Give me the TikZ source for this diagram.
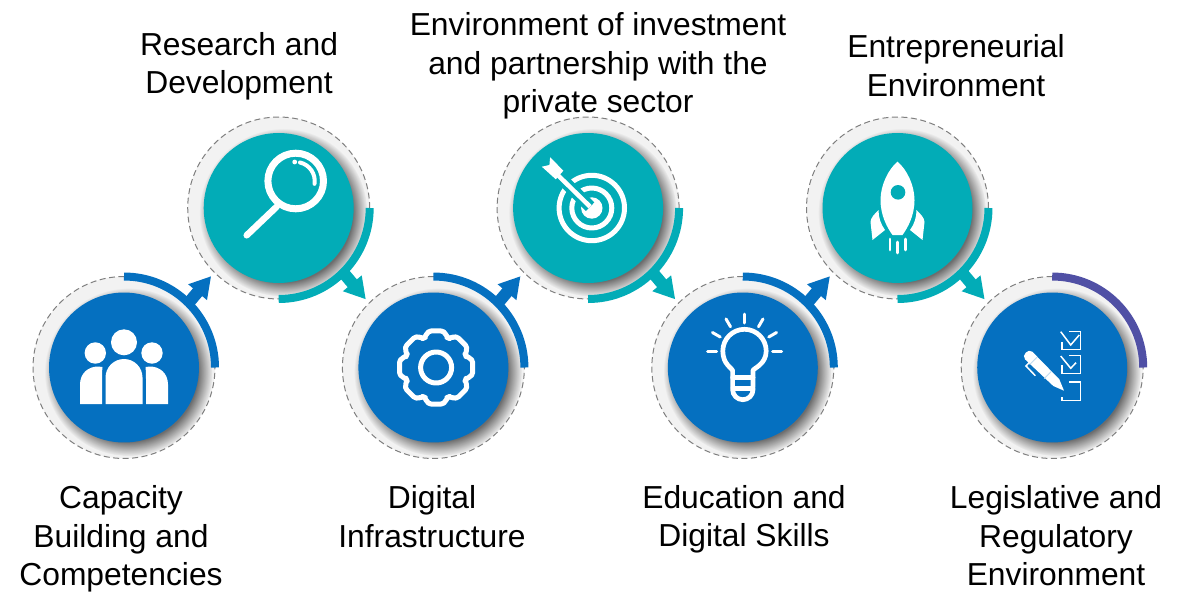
\documentclass[tikz,border=0pt]{standalone}
\usepackage{fontspec}
\setmainfont{Liberation Sans}
\definecolor{stepblue}{RGB}{5,112,192}
\definecolor{stepteal}{RGB}{2,172,183}
\definecolor{steppurple}{RGB}{80,80,165}
\definecolor{ringgray}{RGB}{242,242,242}
\definecolor{dashgray}{RGB}{127,127,127}
\usetikzlibrary{arrows.meta,fadings}
\pgfdeclareradialshading{softshadowshade}{\pgfpointorigin}{color(0bp)=(pgftransparent!45); color(20.5bp)=(pgftransparent!45); color(25bp)=(pgftransparent!100); color(50bp)=(pgftransparent!100)}
\pgfdeclarefading{softshadow}{\pgfuseshading{softshadowshade}}
\tikzset{
    ringnode/.style={draw=dashgray, dash pattern=on 0.12cm off 0.07cm, line width=0.02cm, fill=ringgray, circle, inner sep=0pt, outer sep=0pt, minimum size=3.64cm},
    shadownode/.style={circle, inner sep=0pt, minimum size=3.36cm, fill=black, path fading=softshadow, xshift=0.09cm, yshift=-0.09cm},
    discblue/.style={circle, inner sep=0pt, minimum size=3cm, fill=stepblue},
    discteal/.style={circle, inner sep=0pt, minimum size=3cm, fill=stepteal},
    arcline/.style={line width=0.16cm},
    flowline/.style={line width=0.24cm, -{Triangle[length=0.42cm,width=0.46cm]}, shorten >=0.1cm},
    steplabel/.style={align=center, inner sep=0pt, font=\fontsize{18.1}{21.85}\selectfont},
    icon/.style={draw=white, line width=0.1cm, line cap=round, line join=round},
    iconthin/.style={draw=white, line width=0.03cm},
}

\begin{document}
\begin{tikzpicture}[x=0.02cm, y=0.02cm]
    \useasboundingbox (0,0) rectangle (1189,593);

    % Rings
    \node[ringnode] (ringA) at (124,225.5) {};
    \node[ringnode] (ringB) at (278.7,385) {};
    \node[ringnode] (ringC) at (433.4,225.5) {};
    \node[ringnode] (ringD) at (588.1,385) {};
    \node[ringnode] (ringE) at (742.8,225.5) {};
    \node[ringnode] (ringF) at (897.5,385) {};
    \node[ringnode] (ringG) at (1052.2,225.5) {};

    % Shadows
    \node[shadownode] (shadowA) at (ringA.center) {};
    \node[shadownode] (shadowB) at (ringB.center) {};
    \node[shadownode] (shadowC) at (ringC.center) {};
    \node[shadownode] (shadowD) at (ringD.center) {};
    \node[shadownode] (shadowE) at (ringE.center) {};
    \node[shadownode] (shadowF) at (ringF.center) {};
    \node[shadownode] (shadowG) at (ringG.center) {};

    % Discs
    \node[discblue] (discA) at (ringA.center) {};
    \node[discteal] (discB) at (ringB.center) {};
    \node[discblue] (discC) at (ringC.center) {};
    \node[discteal] (discD) at (ringD.center) {};
    \node[discblue] (discE) at (ringE.center) {};
    \node[discteal] (discF) at (ringF.center) {};
    \node[discblue] (discG) at (ringG.center) {};

    % Arcs
    \draw[arcline, stepblue] (ringA.90) arc[start angle=90, end angle=0, radius=91];
    \draw[arcline, stepteal] (ringB.0) arc[start angle=0, end angle=-90, radius=91];
    \draw[arcline, stepblue] (ringC.90) arc[start angle=90, end angle=0, radius=91];
    \draw[arcline, stepteal] (ringD.0) arc[start angle=0, end angle=-90, radius=91];
    \draw[arcline, stepblue] (ringE.90) arc[start angle=90, end angle=0, radius=91];
    \draw[arcline, stepteal] (ringF.0) arc[start angle=0, end angle=-90, radius=91];
    \draw[arcline, steppurple] (ringG.90) arc[start angle=90, end angle=0, radius=91];

    % Arrows
    \draw[flowline, stepblue] (ringA.45) -- (ringB.225);
    \draw[flowline, stepteal] (ringB.-45) -- (ringC.135);
    \draw[flowline, stepblue] (ringC.45) -- (ringD.225);
    \draw[flowline, stepteal] (ringD.-45) -- (ringE.135);
    \draw[flowline, stepblue] (ringE.45) -- (ringF.225);
    \draw[flowline, stepteal] (ringF.-45) -- (ringG.135);

    % People
    \begin{scope}[shift={(ringA.center)}]
        \fill[white] (0,25.2) circle (13);
        \fill[white] (-28.7,14.5) circle (10.7);
        \fill[white] (28,14.5) circle (10.7);
        \fill[white] (-18.5,-36.5) -- (-18.5,-10) arc[start angle=180, end angle=0, radius=18.5] -- (18.5,-36.5) -- cycle;
        \fill[white] (-44,-36.5) -- (-44,-17) .. controls (-44,-6) and (-36,1) .. (-26,1) -- (-21.5,0.5) .. controls (-22,-4) and (-22,-8) .. (-22,-12) -- (-22,-36.5) -- cycle;
        \fill[white] (44,-36.5) -- (44,-17) .. controls (44,-6) and (36,1) .. (26,1) -- (21.5,0.5) .. controls (22,-4) and (22,-8) .. (22,-12) -- (22,-36.5) -- cycle;
    \end{scope}

    % Magnifier
    \begin{scope}[shift={(ringB.center)}]
        \draw[icon, line width=0.14cm] (17,27) circle (27.8);
        \draw[icon, line width=0.13cm] (-2,1.3) -- (-32,-27.3);
        \draw[icon, line width=0.08cm] (21.3,45.5) arc[start angle=77, end angle=-8.5, radius=19];
        \fill[white] (16,46) circle (2.4);
    \end{scope}

    % Gear
    \begin{scope}[shift={(ringC.center)}]
        \draw[icon] (2.7,0) circle (15.5);
        \draw[icon, rounded corners=0.07cm, xshift=0.054cm]
            (90-13:37.5) -- (90+13:37.5) -- (90+19:32) -- (135-19:32)
            -- (135-13:37.5) -- (135+13:37.5) -- (135+19:32) -- (180-19:32)
            -- (180-13:37.5) -- (180+13:37.5) -- (180+19:32) -- (225-19:32)
            -- (225-13:37.5) -- (225+13:37.5) -- (225+19:32) -- (270-19:32)
            -- (270-13:37.5) -- (270+13:37.5) -- (270+19:32) -- (315-19:32)
            -- (315-13:37.5) -- (315+13:37.5) -- (315+19:32) -- (360-19:32)
            -- (360-13:37.5) -- (360+13:37.5) -- (360+19:32) -- (405-19:32)
            -- (405-13:37.5) -- (405+13:37.5) -- (405+19:32) -- (450-19:32) -- cycle;
    \end{scope}

    % Target
    \begin{scope}[shift={(ringD.center)}]
        \draw[icon] (3.7,0) circle (32.7);
        \draw[icon] (3.7,0) circle (20);
        \fill[white] (3.7,0) circle (10.7);
        \draw[stepteal, line width=0.24cm] (2,1.3) -- (-29.7,32.3);
        \draw[white, line width=0.09cm] (2,1.3) -- (-29.7,32.3);
        \fill[white] (-46.3,41.3) -- (-38.7,43) -- (-38,50.7) -- (-24.7,37.3) -- (-32.3,28.7) -- cycle;
    \end{scope}

    % Bulb
    \begin{scope}[shift={(ringE.center)}]
        \draw[icon, line width=0.094cm] (-10.2,-19.5) -- (-10.2,-3) .. controls (-10.2,-1) and (-20,3) .. (-20,16.5) arc[start angle=180, end angle=0, radius=21.7] .. controls (23.4,3) and (10.2,-1) .. (10.2,-3) -- (10.2,-19.5);
        \draw[icon, line width=0.094cm] (-10.2,-21) -- (-10.2,-22) arc[start angle=180, end angle=360, radius=10.2] -- (10.2,-21) -- cycle;
        \draw[icon, line width=0.094cm] (-10.2,-10) -- (10.2,-10);
        \draw[icon, line width=0.06cm] (1.7,16.5) ++(0:28) -- ++(0:9);
        \draw[icon, line width=0.06cm] (1.7,16.5) ++(30:28) -- ++(30:9);
        \draw[icon, line width=0.06cm] (1.7,16.5) ++(60:28) -- ++(60:9);
        \draw[icon, line width=0.06cm] (1.7,16.5) ++(90:28) -- ++(90:9);
        \draw[icon, line width=0.06cm] (1.7,16.5) ++(120:28) -- ++(120:9);
        \draw[icon, line width=0.06cm] (1.7,16.5) ++(150:28) -- ++(150:9);
        \draw[icon, line width=0.06cm] (1.7,16.5) ++(180:28) -- ++(180:9);
    \end{scope}

    % Rocket
    \begin{scope}[shift={(ringF.center)}]
        \fill[white] (0,46.3) .. controls (-9,39) and (-17,23) .. (-17,8) .. controls (-17,-8) and (-10,-20) .. (-5,-27) -- (5,-27) .. controls (10,-20) and (17,-8) .. (17,8) .. controls (17,23) and (9,39) .. (0,46.3) -- cycle;
        \fill[stepteal] (0.5,15.7) circle (7.3);
        \fill[white] (-19,-2) .. controls (-23,-6) and (-27,-10) .. (-27,-14) -- (-25,-32) -- (-12.5,-22) .. controls (-17,-16) and (-19,-9) .. (-19,-2) -- cycle;
        \fill[white] (19,-2) .. controls (23,-6) and (27,-10) .. (27,-14) -- (25,-32) -- (12.5,-22) .. controls (17,-16) and (19,-9) .. (19,-2) -- cycle;
        \draw[icon, line width=0.054cm] (-7.5,-31) -- (-7.5,-42);
        \draw[icon, line width=0.054cm] (0,-34) -- (0,-45);
        \draw[icon, line width=0.054cm] (8,-31) -- (8,-42);
    \end{scope}

    % Checklist
    \begin{scope}[shift={(ringG.center)}]
        \fill[white] (-19.9,15.8) -- (7.1,-11.8) -- (11.8,-23.2) -- (1.1,-18.5) -- (-27.2,8.2) .. controls (-31,12) and (-24,19.5) .. (-19.9,15.8) -- cycle;
        \draw[stepblue!25, line width=0.015cm] (-22.5,3) -- (-15,10.5);
        \draw[stepblue!25, line width=0.015cm] (-8,-11) -- (-1,-4);
        \draw[iconthin] (-22.2,5.8) -- (-26.2,1.5) -- (-16.9,-8.2);
        \draw[iconthin] (17.1,35.8) -- (28.1,35.8) -- (28.1,18.2) -- (9.8,18.2) -- (9.8,25.8);
        \draw[iconthin] (8.5,35.8) -- (18.5,22.5) -- (27,32.5);
        \draw[iconthin] (17.1,12.2) -- (28.1,12.2) -- (28.1,-5.8) -- (9.8,-5.8) -- (9.8,2.5);
        \draw[iconthin] (8.5,11.5) -- (18.5,-0.8) -- (23.8,4.8);
        \draw[iconthin] (17.1,-14.5) -- (28.1,-14.5) -- (28.1,-32.8) -- (9.8,-32.8) -- (9.8,-29.5);
    \end{scope}

    % Labels
    \node[steplabel] (labelA) at (121,54) {Capacity\\Building and\\Competencies};
    \node[steplabel] (labelB) at (239,527) {Research and\\Development};
    \node[steplabel] (labelC) at (432,76.5) {Digital\\Infrastructure};
    \node[steplabel] (labelD) at (598,527) {Environment of investment\\and partnership with the\\private sector};
    \node[steplabel] (labelE) at (744,73.5) {Education and\\Digital Skills};
    \node[steplabel] (labelF) at (956,527.5) {Entrepreneurial\\Environment};
    \node[steplabel] (labelG) at (1056,57) {Legislative and\\Regulatory\\Environment};
\end{tikzpicture}
\end{document}
